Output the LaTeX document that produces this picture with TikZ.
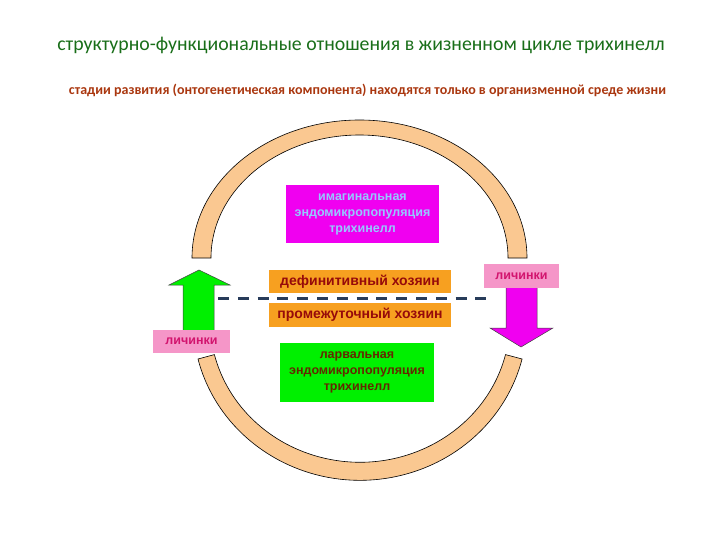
\documentclass[tikz,border=0pt]{standalone}
\usepackage{fontspec}
\setmainfont{Liberation Sans}
\newfontfamily\calibfont{Carlito}
\usepackage{xcolor}
\usepackage{tikz}

\definecolor{titlegreen}{RGB}{25,110,25}
\definecolor{subred}{RGB}{170,55,15}
\definecolor{peach}{RGB}{250,200,145}
\definecolor{hostorange}{RGB}{247,160,32}
\definecolor{hostred}{RGB}{150,10,10}
\definecolor{larvpink}{RGB}{245,150,200}
\definecolor{larvtext}{RGB}{210,20,110}
\definecolor{imagmag}{RGB}{240,0,240}
\definecolor{imagtext}{RGB}{150,200,255}
\definecolor{larvgreen}{RGB}{0,240,0}
\definecolor{larvbrown}{RGB}{100,40,0}
\definecolor{dashblue}{RGB}{40,60,90}

\begin{document}
\begin{tikzpicture}[x=1pt,y=-1pt,
		band/.style={fill=peach,draw=black,line width=0.6pt},
		boxtext/.style={inner sep=0pt,align=center,font=\bfseries\fontsize{12.5}{16}\selectfont},
		hostbox/.style={boxtext,font=\bfseries\fontsize{14}{16}\selectfont,fill=hostorange,text=hostred,minimum width=182pt,minimum height=23.5pt},
		larvabox/.style={boxtext,fill=larvpink,text=larvtext,minimum height=23.5pt},
		arrowshape/.style={draw=black!75,line width=0.5pt}]
	\useasboundingbox (0,0) rectangle (720,540);
	
	% headings
	\node[text=titlegreen,font=\calibfont\fontsize{19.8}{24}\selectfont] (title) at (361,45)
		{структурно-функциональные отношения в жизненном цикле трихинелл};
	\node[text=subred,font=\calibfont\bfseries\fontsize{14}{17}\selectfont] (subtitle) at (367.5,90)
		{стадии развития (онтогенетическая компонента) находятся только в организменной среде жизни};
	
	% cycle bands
	\draw[band] (192,258) arc[start angle=180,end angle=360,x radius=167.5,y radius=138]
		-- (508,258) arc[start angle=360,end angle=180,x radius=148.5,y radius=123] -- cycle;
	\draw[band] (198,359) arc[start angle=166,end angle=14,x radius=167,y radius=160]
		-- (505.5,354.6) arc[start angle=14,end angle=166,x radius=150,y radius=142] -- cycle;
	
	% arrows
	\draw[arrowshape,fill=larvgreen] (183,340) -- (183,285) -- (169,285) -- (199,270)
		-- (230,285) -- (214,285) -- (214,340) -- cycle; % up
	\draw[arrowshape,fill=imagmag] (506,282) -- (506,328) -- (490,328) -- (521,347)
		-- (553,328) -- (537,328) -- (537,282) -- cycle; % down
	
	% boxes
	\node[boxtext,fill=imagmag,text=imagtext,minimum width=153pt,minimum height=58pt] (imag) at (362.5,214)
		{имагинальная\\эндомикропопуляция\\трихинелл};
	\node[hostbox] (defin) at (360,281.5) {дефинитивный хозяин};
	\node[hostbox] (interm) at (360,315) {промежуточный хозяин};
	\node[boxtext,fill=larvgreen,text=larvbrown,minimum width=154pt,minimum height=59pt] (larv) at (357,372.5)
		{ларвальная\\эндомикропопуляция\\трихинелл};
	\foreach \n/\x/\y/\w in
	{lichL/191.5/341.5/77, lichR/521.5/276/75}{
		\node[larvabox,minimum width=\w pt] (\n) at (\x,\y) {личинки};
	}
	
	% host border
	\coordinate (dashL) at (218,298);
	\coordinate (dashR) at (495,298);
	\draw[dashblue,line width=3pt,dash pattern=on 11pt off 8.8pt] (dashL) -- (dashR);
\end{tikzpicture}
\end{document}
